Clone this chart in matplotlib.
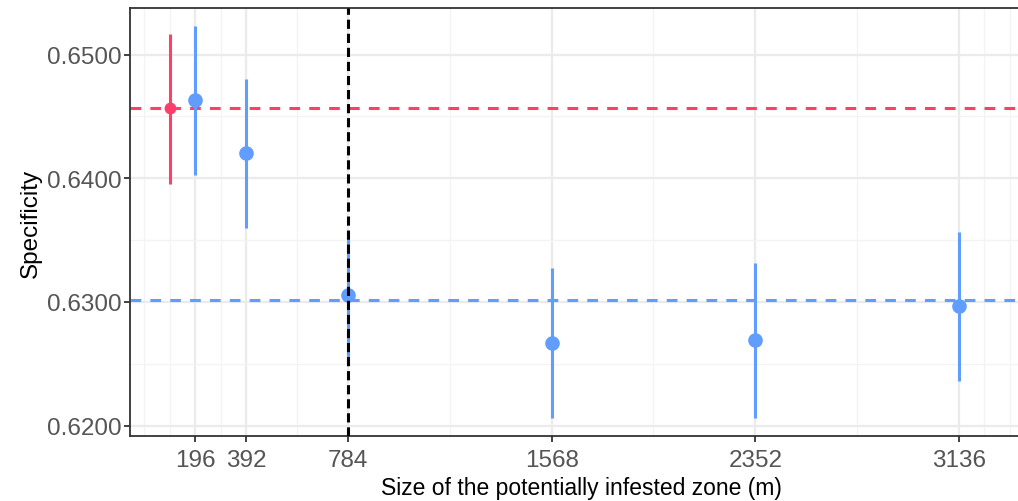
#Specificity vs size of the potentially infested zone
import matplotlib
matplotlib.use('Agg')
from matplotlib import pyplot as plt
from matplotlib.ticker import FormatStrFormatter, FixedLocator

plt.rcParams['font.family'] = ['Liberation Sans', 'DejaVu Sans']

#Data
ref_x = [98]
ref_spec = [0.64565]
ref_low = [0.63958]
ref_high = [0.65164]

sizes = [196, 392, 784, 1568, 2352, 3136]
spec = [0.64632, 0.64201, 0.63059, 0.62670, 0.62694, 0.62967]
spec_low = [0.64024, 0.63601, 0.62499, 0.62062, 0.62062, 0.62364]
spec_high = [0.65235, 0.64800, 0.63567, 0.63277, 0.63318, 0.63567]

ref_line = 0.64565
zone_line = 0.63013
chosen_size = 784

xticks = [196, 392, 784, 1568, 2352, 3136]
xminor = [0, 98, 294, 588, 1176, 1960, 2744, 3234, 3332]
yticks = [0.62, 0.63, 0.64, 0.65]
yminor = [0.615, 0.625, 0.635, 0.645]

red = '#FF3E6C'
blue = '#619CFF'

#Plot data
fig = plt.figure(dpi=100, figsize=(10.18, 5.02))
ax = fig.add_axes([0.1277, 0.1289, 0.8868, 0.8526])

ax.axhline(ref_line, color=red, lw=2.2, ls=(0, (3.5, 3)), zorder=2)
ax.axhline(zone_line, color=blue, lw=2.2, ls=(0, (3.5, 3)), zorder=2)

ax.vlines(ref_x, ref_low, ref_high, color=red, lw=2.2, zorder=3)
ax.plot(ref_x, ref_spec, 'o', color=red, ms=7.5, zorder=4)
ax.vlines(sizes, spec_low, spec_high, color=blue, lw=2.2, zorder=3)
ax.plot(sizes, spec, 'o', color=blue, ms=9.5, zorder=4)

ax.axvline(chosen_size, color='black', lw=2.2, ls=(0, (3, 1.6)), zorder=5)

#Format plot
ax.set_xlim(-55, 3420)
ax.set_ylim(0.61914, 0.65375)
ax.set_xticks(xticks)
ax.set_yticks(yticks)
ax.xaxis.set_minor_locator(FixedLocator(xminor))
ax.yaxis.set_minor_locator(FixedLocator(yminor))
ax.yaxis.set_major_formatter(FormatStrFormatter('%.4f'))
ax.grid(which='major', color='#EBEBEB', lw=1.6, zorder=0)
ax.grid(which='minor', color='#F3F3F3', lw=0.9, zorder=0)
ax.set_axisbelow(True)

for side in ['left', 'bottom', 'top', 'right']:
    ax.spines[side].set_color('#333333')
    ax.spines[side].set_linewidth(1.3)

ax.tick_params(axis='both', which='major', labelsize=17.5, colors='#333333',
               labelcolor='#555555', length=4, width=1.3)
ax.tick_params(axis='x', which='major', pad=5)
ax.tick_params(axis='y', which='major', pad=2)
ax.tick_params(axis='both', which='minor', length=0)

ax.set_xlabel('Size of the potentially infested zone (m)', fontsize=16.5, labelpad=4)
ax.set_ylabel('Specificity', fontsize=17.5, labelpad=4)

fig.savefig('out.png', dpi=100)
